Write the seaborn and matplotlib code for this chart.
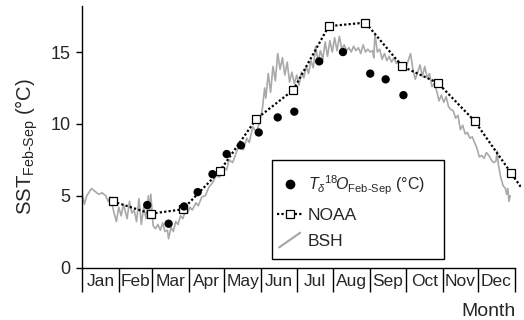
import numpy as np
import pandas as pd
import matplotlib
matplotlib.use("Agg")
import matplotlib.pyplot as plt
import seaborn as sns
from matplotlib.lines import Line2D
from matplotlib.patches import Rectangle
from matplotlib.legend_handler import HandlerBase

# ---------------- data ----------------
months = ["Jan", "Feb", "Mar", "Apr", "May", "Jun",
          "Jul", "Aug", "Sep", "Oct", "Nov", "Dec"]
month_edges = [0, 31, 59, 90, 120, 151, 181, 212, 243, 273, 304, 334, 365]

noaa_day = [26, 58, 85, 116, 147, 178, 208, 239, 270, 300, 331, 362, 392]
noaa_sst = [4.6, 3.75, 4.05, 6.7, 10.35, 12.35, 16.8, 17.05, 14.0, 12.85, 10.2, 6.55, 3.0]

d18o_day = [55, 73, 86, 97.5, 110, 122, 134, 149, 165, 179, 200, 220, 243, 256, 271]
d18o_sst = [4.35, 3.05, 4.25, 5.25, 6.5, 7.9, 8.5, 9.4, 10.45, 10.85,
            14.35, 15.0, 13.5, 13.1, 12.0]

bsh_day = [0, 2, 4, 8, 11, 14, 17, 20, 22, 24, 27, 29, 31,
           33, 35, 38, 40, 42, 44, 46, 48, 50, 52, 54, 56, 57, 58,
           60, 62, 64, 66, 68, 70, 72, 73, 75, 77, 79, 81, 83, 85, 87, 89,
           91, 93, 96, 98, 101, 104, 107, 110, 113, 116, 119,
           122, 124, 127, 130, 133, 136, 139, 141, 144, 147, 150,
           152, 154, 155, 157, 159, 161, 163, 165, 167, 169, 171, 173, 175, 177, 179, 181,
           183, 185, 187, 189, 191, 193, 195, 197, 199, 201, 203, 205, 207, 209, 211, 213,
           215, 217, 219, 221, 223, 225, 227, 229, 231, 233, 235, 237, 239, 241, 243,
           245, 246, 247, 249, 251, 253, 255, 257, 259, 261, 263, 265, 267, 269, 271, 273,
           275, 277, 279, 281, 283, 285, 287, 289, 291, 293, 295, 297, 299, 301, 303,
           305, 307, 309, 311, 313, 315, 317, 319, 321, 323, 325, 327, 329, 331, 333,
           335, 337, 339, 341, 343, 345, 347, 349, 350, 351, 353, 355, 357, 358, 359, 360, 361]
bsh_sst = [5.2, 4.4, 5.0, 5.5, 5.3, 5.1, 5.2, 5.0, 4.6, 4.9, 3.8, 3.2, 4.2,
           3.6, 4.4, 3.4, 4.6, 3.8, 4.0, 3.2, 4.8, 3.0, 4.2, 3.4, 5.0, 3.6, 5.1,
           2.9, 2.7, 3.0, 2.6, 3.1, 2.5, 2.6, 2.0, 2.8, 2.5, 3.2, 3.0, 3.6, 3.4, 3.9, 3.8,
           4.2, 4.0, 4.5, 4.3, 4.9, 5.0, 5.6, 5.9, 6.4, 6.3, 7.0,
           6.8, 7.5, 7.3, 8.0, 8.6, 8.2, 9.0, 8.7, 9.8, 9.4, 10.2,
           11.0, 12.5, 11.8, 13.5, 12.2, 14.0, 13.0, 14.9, 13.8, 14.6, 13.4, 14.3, 12.9, 13.6, 12.8, 13.4,
           12.7, 13.6, 13.2, 14.0, 13.5, 14.4, 13.9, 15.4, 14.3, 15.1, 14.5, 15.7, 14.7, 15.8, 15.0, 16.0,
           15.1, 16.1, 15.2, 15.5, 15.1, 15.3, 15.0, 15.4, 15.1, 15.3, 14.9, 15.5, 15.0, 15.2, 15.0,
           15.1, 14.6, 16.3, 15.0, 15.2, 14.5, 14.9, 14.4, 14.7, 14.3, 14.6, 14.2, 14.4, 13.9, 14.1, 13.9,
           14.4, 14.9, 13.8, 13.1, 13.6, 14.1, 13.3, 14.0, 13.2, 13.5, 12.6, 12.8, 12.3, 11.6, 12.0,
           11.5, 11.9, 11.2, 11.0, 10.9, 10.4, 10.6, 9.6, 9.9, 9.3, 9.4, 9.0, 9.1, 8.7, 8.3,
           7.7, 7.8, 7.6, 8.0, 7.8, 7.5, 7.3, 7.4, 8.1, 7.2, 6.3, 5.7, 5.5, 5.1, 5.5, 4.6, 5.0]

y_ticks = [0, 5, 10, 15]

# ---------------- style ----------------
sns.set_style("ticks")
plt.rcParams["font.family"] = ["Liberation Sans", "DejaVu Sans"]
plt.rcParams["mathtext.fontset"] = "custom"
plt.rcParams["mathtext.rm"] = "Liberation Sans"
plt.rcParams["mathtext.it"] = "Liberation Sans:italic"
plt.rcParams["mathtext.bf"] = "Liberation Sans:bold"

fig = plt.figure(figsize=(5.24, 3.2), dpi=100)
ax = fig.add_axes([0.1565, 0.164, 0.8375, 0.817])

bsh_df = pd.DataFrame({"day": bsh_day, "sst": bsh_sst})
noaa_df = pd.DataFrame({"day": noaa_day, "sst": noaa_sst})
d18_df = pd.DataFrame({"day": d18o_day, "sst": d18o_sst})

gray = "#a9a9a9"
sns.lineplot(data=bsh_df, x="day", y="sst", ax=ax, color=gray, lw=1.2,
             estimator=None, sort=False, legend=False, zorder=2)
sns.lineplot(data=noaa_df, x="day", y="sst", ax=ax, color="black", lw=1.6,
             linestyle=(0, (1, 1)), marker="s", markersize=5.2,
             markerfacecolor="white", markeredgecolor="black", markeredgewidth=0.9,
             estimator=None, sort=False, legend=False, zorder=3)
sns.scatterplot(data=d18_df, x="day", y="sst", ax=ax, color="black", s=36,
                edgecolor="none", legend=False, zorder=4)

ax.set_xlim(0, 370)
ax.set_ylim(0, 18.2)
ax.set_yticks(y_ticks)
ax.tick_params(axis="y", labelsize=13, length=4.3, width=1, pad=4, color="black")

ax.set_xticks(month_edges)
ax.set_xticklabels([])
ax.set_xticks([(month_edges[i] + month_edges[i + 1]) / 2 for i in range(12)], minor=True)
ax.set_xticklabels(months, minor=True)
ax.tick_params(axis="x", which="major", length=17, width=1, color="black")
ax.tick_params(axis="x", which="minor", length=0, labelsize=12.5, pad=5)

for s in ["top", "right"]:
    ax.spines[s].set_visible(False)
for s in ["left", "bottom"]:
    ax.spines[s].set_linewidth(1.0)
    ax.spines[s].set_color("black")
ax.spines["bottom"].set_bounds(0, 365)

ax.set_xlabel("Month", fontsize=14)
ax.xaxis.set_label_coords(0.988, -0.135)
ax.xaxis.label.set_horizontalalignment("right")
ax.set_ylabel(r"SST$_{\mathrm{Feb\text{-}Sep}}$ (°C)", fontsize=14.6)
ax.yaxis.set_label_coords(-0.095, 0.463)

# legend
class HandlerDiag(HandlerBase):
    def create_artists(self, legend, orig_handle, xdescent, ydescent,
                       width, height, fontsize, trans):
        x0, y0 = -xdescent, -ydescent
        ln = Line2D([x0 + 0.1 * width, x0 + 0.9 * width],
                    [y0 - 0.15 * height, y0 + 1.05 * height],
                    color=orig_handle.get_color(), lw=orig_handle.get_linewidth())
        ln.set_transform(trans)
        return [ln]

h_dot = Line2D([], [], ls="none", marker="o", color="black", markersize=6)
h_noaa = Line2D([], [], color="black", lw=1.6, linestyle=(0, (1, 1)), marker="s",
                markersize=5.2, markerfacecolor="white", markeredgecolor="black",
                markeredgewidth=0.9)
h_bsh = Line2D([], [], color=gray, lw=1.6)
leg = ax.legend([h_dot, h_noaa, h_bsh],
                [r"$T_{\delta}{}^{18}\!O_{\mathrm{Feb\text{-}Sep}}$ (°C)", "NOAA", "BSH"],
                handler_map={h_bsh: HandlerDiag()},
                loc="upper left", bbox_to_anchor=(0.4435, 0.36),
                fontsize=12.5, frameon=False, borderpad=0, labelspacing=0.62,
                handlelength=1.5, handletextpad=0.3, borderaxespad=0)
leg.get_texts()[0].set_fontsize(11.5)
ax.add_patch(Rectangle((0.434, 0.0325), 0.391, 0.3785, transform=ax.transAxes,
                       facecolor="white", edgecolor="black", lw=1.0, zorder=5))
leg.set_zorder(6)

fig.savefig("out.png", dpi=100)
